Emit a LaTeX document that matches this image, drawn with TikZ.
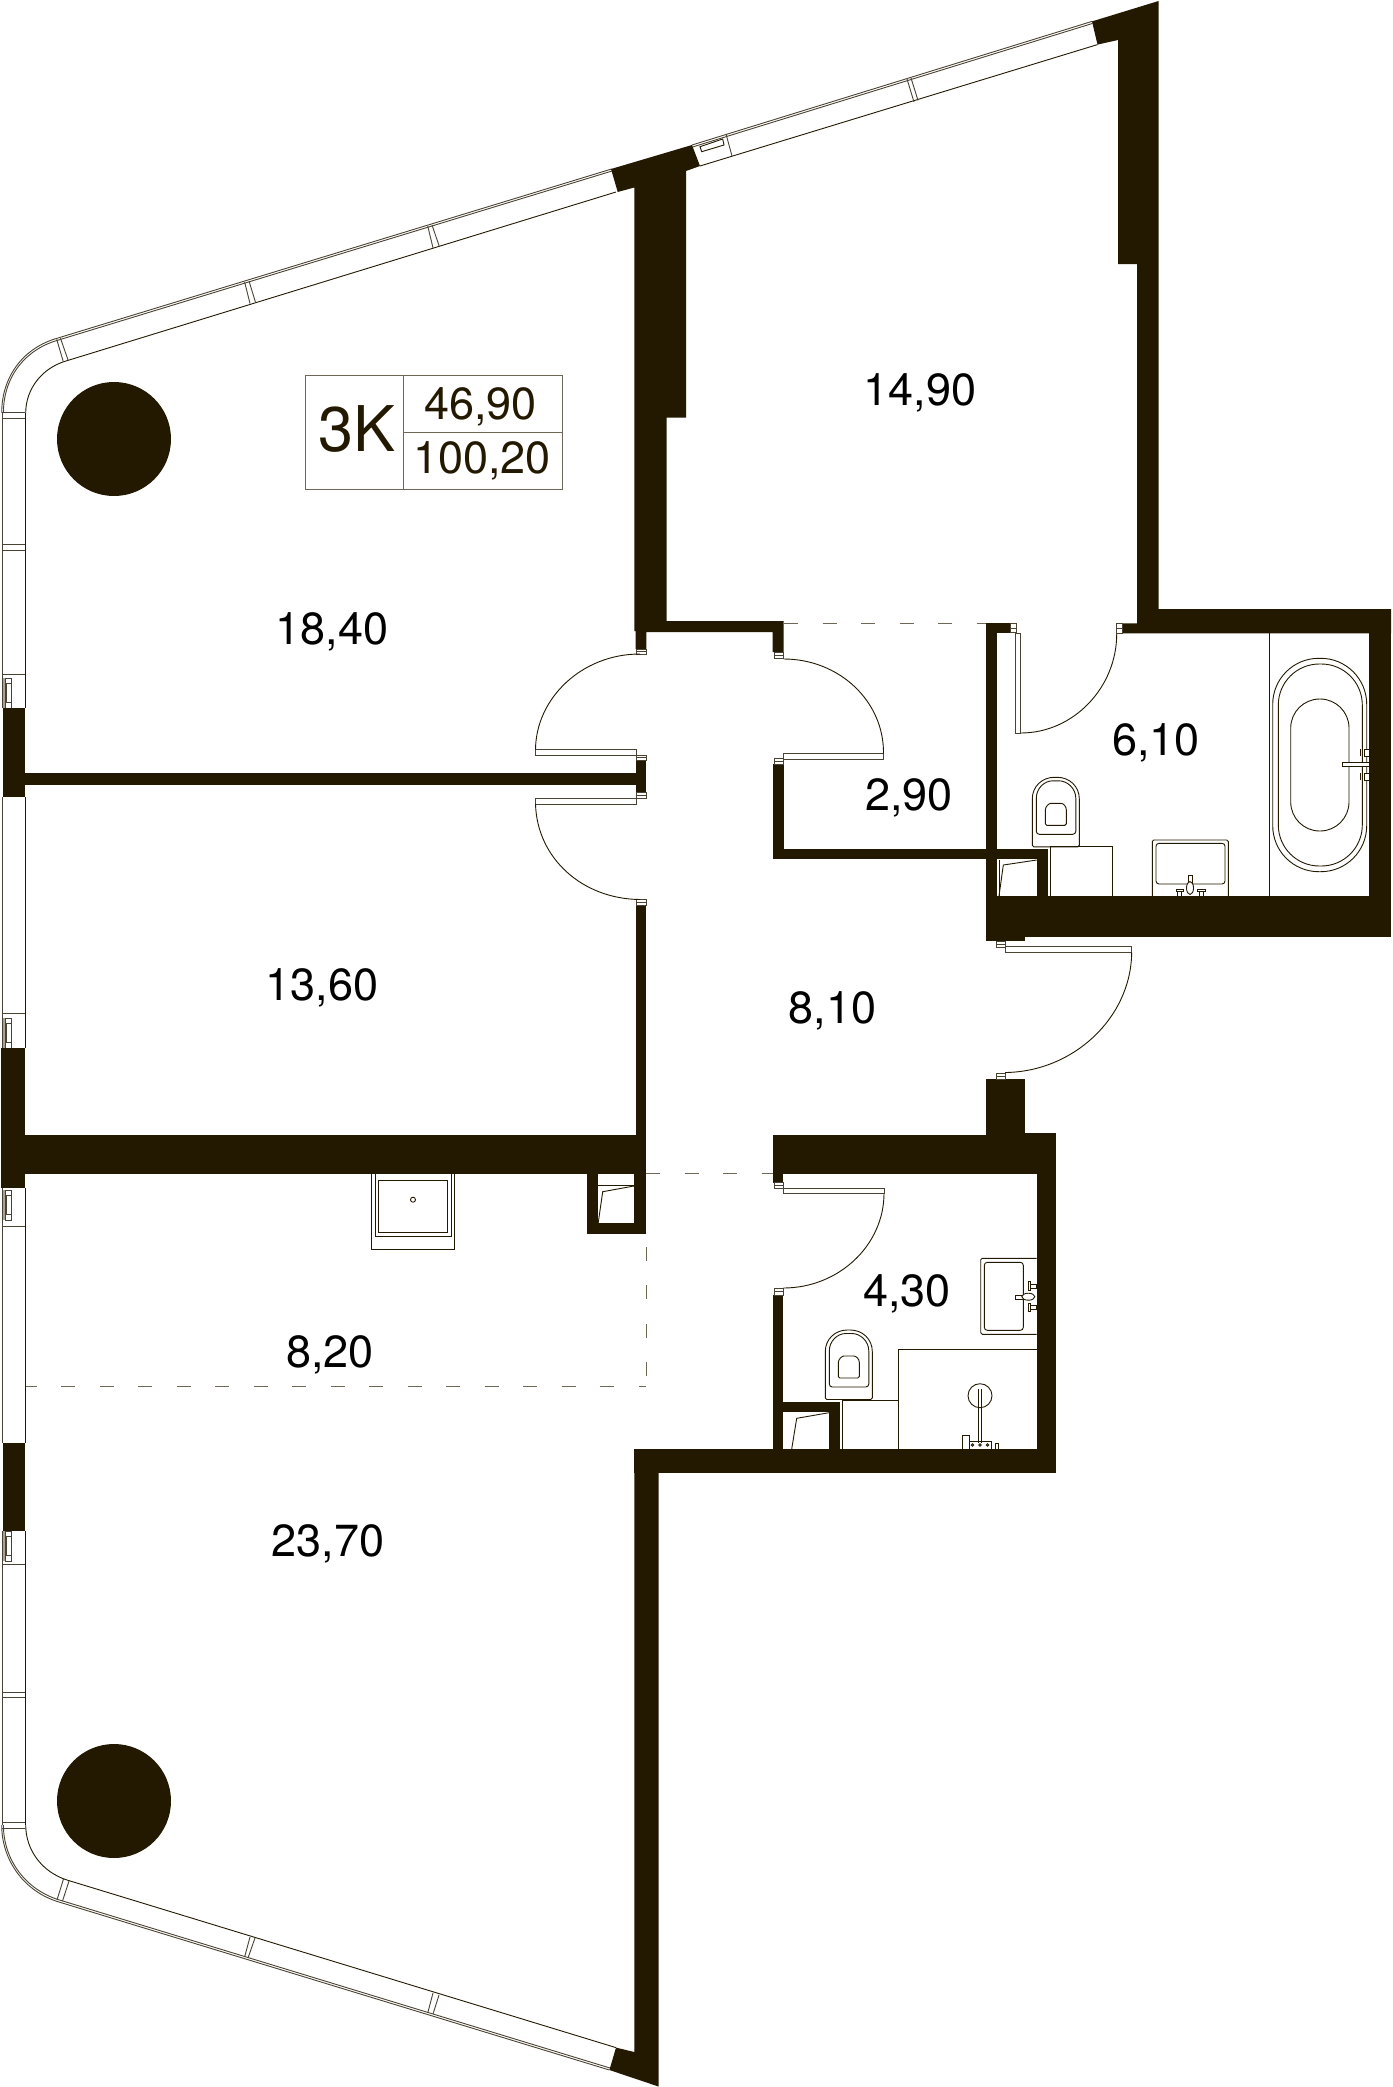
\documentclass[tikz,border=0pt]{standalone}
\usepackage{fontspec}
\setmainfont{TeX Gyre Heros}
\definecolor{wallc}{HTML}{221900}
\definecolor{boxc}{HTML}{6E6757}
\definecolor{facec}{HTML}{4A4333}
\definecolor{greyc}{HTML}{A8A294}
\tikzset{
  wall/.style={fill=wallc,draw=none},
  ln/.style={draw=wallc,line width=0.9pt,fill=none},
  lnw/.style={draw=wallc,line width=0.9pt,fill=white},
  lnf/.style={draw=facec,line width=0.8pt,fill=white},
  face/.style={draw=facec,line width=0.9pt},
  zone/.style={draw=boxc,line width=0.9pt,dash pattern=on 14pt off 24.5pt},
  room/.style={anchor=base,inner sep=0pt,text=black,font=\fontsize{45}{50}\selectfont},
  info/.style={anchor=base,inner sep=0pt,text=wallc,font=\fontsize{45}{50}\selectfont},
  infobig/.style={anchor=base,inner sep=0pt,text=wallc,font=\fontsize{63}{70}\selectfont},
  infoline/.style={draw=boxc,line width=0.9pt}
}
\newcommand{\frm}[4]{\draw[lnf] (#1,#2) rectangle (#3,#4);}
\newcommand{\frmh}[4]{\draw[lnf] (#1,#2) rectangle (#3,#4); \draw[face] (#1,{(#2+#4)/2}) -- (#3,{(#2+#4)/2});}
\newcommand{\hdl}[1]{%
  \fill[greyc] (3,#1) rectangle (5.5,#1+30);
  \draw[lnf] (5,#1) rectangle (11.7,#1+30);
  \draw[face] (6.5,#1+5) rectangle (11.7,#1+24);}
\newcommand{\wc}[2]{%
  \begin{scope}[shift={(#1,#2)}]
    \draw[ln,rounded corners=1.5pt] (0,69.5) -- (0,23) .. controls (0,9) and (10,0) .. (23.5,0) .. controls (37,0) and (47,9) .. (47,23) -- (47,69.5) -- cycle;
    \draw[ln,rounded corners=3pt] (4,57) -- (4,24) .. controls (4,11) and (12,3.5) .. (23.5,3.5) .. controls (35,3.5) and (43.5,11) .. (43.5,24) -- (43.5,57) -- cycle;
    \draw[ln,rounded corners=1.5pt] (13,48) -- (13,34) .. controls (13,29) and (17,26) .. (20,26) -- (27,26) .. controls (31,26) and (34,29) .. (34,34) -- (34,48) -- cycle;
  \end{scope}}
\begin{document}
\begin{tikzpicture}[x=1pt,y=-1pt]
\useasboundingbox (0,0) rectangle (1392,2087);
\fill[white] (0,0) rectangle (1392,2087);

% --- facade: windows
\draw[face] (1.7,1825) .. controls (1.7,1861) and (25,1892) .. (59,1902) -- (609.4,2070);
\draw[face] (3.4,1825) .. controls (3.4,1860) and (26,1890) .. (59.6,1900) -- (610,2068);
\draw[ln] (25.7,1825) .. controls (25.7,1850) and (42,1872) .. (67,1880) -- (616,2047.6);
\draw[face] (1.7,413) .. controls (1.7,375) and (25,347) .. (58,338) -- (611.6,169);
\draw[face] (3.4,413) .. controls (3.4,376) and (26,349) .. (58.6,340) -- (612,171);
\draw[ln] (25.7,413) .. controls (25.7,389) and (42,368) .. (66,361) -- (616,192);
\draw[face] (692,145) -- (1092,21.4);
\draw[face] (692.6,147) -- (1092.6,23.4);
\draw[ln] (700,166) -- (1097.5,44.6);
\foreach \a/\b in {413/708,797/1047.6,1188/1443,1531/1825}{
  \draw[face] (2.4,\a) -- (2.4,\b);
  \draw[ln] (25.3,\a) -- (25.3,\b);
}
% mullions
\foreach \y/\z in {412/418,544/550,1692/1697,1822/1828}{
  \draw[face] (2.4,\y) -- (25.3,\y);
  \draw[face] (2.4,\z) -- (25.3,\z);
}
\draw[face] (2.4,674.4) -- (25.3,674.4);
\draw[face] (2.4,1013) -- (25.3,1013);
\draw[face] (2.4,1226) -- (25.3,1226);
\draw[face] (2.4,1564.6) -- (25.3,1564.6);
\hdl{678} \hdl{1018} \hdl{1190} \hdl{1531}
\draw[face] (56.7,339.3) -- (63.3,361.7);
\draw[face] (60.5,338.3) -- (68.3,360.7);
\draw[face] (244.6,282) -- (250,303.6);
\draw[face] (249,281) -- (255.4,302);
\draw[face] (427.7,226) -- (433,247.8);
\draw[face] (432,225) -- (439.3,246.4);
\draw[face] (907,79) -- (914,102);
\draw[face] (911,78) -- (918,100.4);
\draw[face] (726,134) -- (732,156);
\draw[lnw] (700,146.7) -- (722.7,139) -- (724,145) -- (701.7,151.7) -- cycle;
\draw[face] (57,1900) -- (63.5,1879);
\draw[face] (62.5,1901) -- (69,1881);
\draw[face] (244.6,1957) -- (250,1937);
\draw[face] (248,1958) -- (255,1938);
\draw[face] (427.7,2013) -- (433,1993);
\draw[face] (433,2014) -- (439,1995);

% --- walls
\path[wall] (611,169) -- (692,145) -- (700,166) -- (686,171) -- (686,417.5) -- (666.7,417.5) -- (666.7,621) -- (783.7,621) -- (783.7,652) -- (772.7,652) -- (772.7,632) -- (646.3,632) -- (646.3,649) -- (635.7,649) -- (635.7,631) -- (634.3,631) -- (634.3,187.5) -- (617.7,192) -- cycle;
\path[wall] (1092,21.4) -- (1158.6,1) -- (1158.6,609) -- (1391,609) -- (1391,633.3) -- (1122.7,633.3) -- (1122.7,623.3) -- (1137,623.3) -- (1137,264) -- (1118,264) -- (1118,40) -- (1097.5,44.6) -- cycle;
\path[wall] (1369,633) rectangle (1391,936.7);
\path[wall] (986,896) rectangle (1391,936.7);
\path[wall] (986,936) rectangle (1025,941);
\path[wall] (986,623.3) rectangle (996.7,896);
\path[wall] (986,623.3) rectangle (1010,632.7);
\path[wall] (772.7,848.7) rectangle (1047.7,859.3);
\path[wall] (1036.7,859) rectangle (1047.7,896);
\path[wall] (772.7,764) rectangle (783.7,859.3);
\path[wall] (986,1079) rectangle (1024.7,1135);
\path[wall] (772.7,1135) rectangle (1055.7,1173.7);
\path[wall] (1036.7,1133) rectangle (1055.7,1472.7);
\path[wall] (1024.7,1133) rectangle (1055.7,1136);
\path[wall] (634.3,1449) rectangle (1055.7,1472.7);
\path[wall] (772.7,1295) rectangle (783.3,1449);
\path[wall] (772.7,1173) rectangle (783.3,1182.7);
\path[wall] (783,1401.7) rectangle (840,1411.7);
\path[wall] (829.3,1401.7) rectangle (840,1449);
\path[wall] (634.3,1449) -- (658.5,1449) -- (658.5,2086.5) -- (609.4,2070) -- (616,2047.6) -- (634.3,2052) -- cycle;
\path[wall] (25,1135) rectangle (646.3,1174);
\path[wall] (587,1174) rectangle (598,1234);
\path[wall] (634.4,1174) rectangle (646.3,1234);
\path[wall] (587,1223) rectangle (646.3,1234);
\path[wall] (635.7,905) rectangle (646.3,1135);
\path[wall] (25,773.3) rectangle (636,784.7);
\path[wall] (635.7,760.7) rectangle (646.3,792.7);
\path[wall] (2.5,708) rectangle (25.3,797);
\path[wall] (1.3,1047.6) rectangle (25.3,1188);
\path[wall] (2.5,1443) rectangle (25.3,1531);

\fill[wallc] (114,439) circle (57);
\fill[wallc] (114,1801) circle (57);

% --- zone dashes
\draw[zone] (784,623) -- (986,623);
\draw[zone] (646,1173.3) -- (772.7,1173.3);
\draw[zone,dash phase=3] (25.5,1386.7) -- (646,1386.7);
\draw[zone,dash pattern=on 14pt off 24.3pt] (646,1247) -- (646,1387);

% --- doors
\frmh{636}{649}{646}{654}
\frmh{636}{755}{646}{760.7}
\frmh{636}{792.7}{646}{798}
\frmh{636}{899.5}{646}{905}
\frmh{774}{652}{783.7}{658}
\frmh{774}{758.5}{783.7}{764}
\frm{535.5}{749.5}{636}{755.5}
\frm{535.5}{798}{636}{804}
\frm{783.7}{753.5}{883.5}{759}
\draw[ln] (640,654) .. controls (582,654) and (536,698) .. (535.5,749.5);
\draw[ln] (535.5,804) .. controls (537,858) and (582,899) .. (640,899.5);
\draw[ln] (783.7,659) .. controls (839,659) and (884,701) .. (883.5,753.5);
% bath door
\frmh{1010}{623.3}{1016}{632.7}
\frmh{1116.7}{623.3}{1122.7}{633.3}
\frm{1015.5}{633}{1020.7}{733}
\draw[ln] (1116.7,634) .. controls (1116.7,687) and (1074,733) .. (1020.7,733);
% entry door
\frmh{996.7}{941}{1005}{947}
\frmh{996.7}{1073}{1005.7}{1079}
\frm{1005}{946.7}{1131.7}{952.3}
\draw[ln] (1131.7,952.3) .. controls (1131,1019) and (1072,1072) .. (1005,1072.5);
% wc door
\frmh{774}{1182.7}{783.3}{1188}
\frmh{774}{1288}{783.3}{1295}
\frm{783.3}{1188.3}{884}{1193.3}
\draw[ln] (884,1193.3) .. controls (884,1245) and (839,1288) .. (783.3,1288);

% --- info box
\draw[infoline] (305,375.4) rectangle (562.5,489.3);
\draw[infoline] (403.6,375.4) -- (403.6,489.3);
\draw[infoline] (403.6,432) -- (562.5,432);
\node[infobig] (type) at (357,451) {3K};
\node[info] (living) at (480.5,419.5) {46,90};
\node[info] (total) at (482,473.5) {100,20};

% --- rooms
\node[room] (r1) at (332,644.5) {18,40};
\node[room] (r2) at (920,405.5) {14,90};
\node[room] (r3) at (909,810.5) {2,90};
\node[room] (r4) at (1155.8,755.5) {6,10};
\node[room] (r5) at (322,1000.5) {13,60};
\node[room] (r6) at (832.7,1023.5) {8,10};
\node[room] (r7) at (330,1367.5) {8,20};
\node[room] (r8) at (907,1306.5) {4,30};
\node[room] (r9) at (328,1556.5) {23,70};

% --- bathroom fixtures (upper)
\draw[ln] (1269.3,633) -- (1269.3,896);
\draw[ln,rounded corners=46pt] (1272.7,658.3) rectangle (1366.7,871.7);
\draw[ln,rounded corners=41pt] (1278.3,664) rectangle (1362.3,866);
\draw[ln,rounded corners=29pt] (1290.7,699) rectangle (1349,831);
\draw[lnw] (1342,762.5) rectangle (1369,766.5);
\draw[lnw] (1364,749) rectangle (1369,756);
\draw[lnw] (1364,773) rectangle (1369,780);
\draw[ln] (1360.7,749) -- (1360.7,756);
\draw[ln] (1360.7,773) -- (1360.7,780);
\wc{1032.3}{777.3}
\draw[ln] (1050,846.7) -- (1112.7,846.7) -- (1112.7,896);
\draw[ln] (1050,846.7) -- (1050,896);
\draw[ln] (999,896) -- (1003.3,865) -- (1036.7,860);
\draw[ln] (999,896) -- (999,860);
\draw[ln,rounded corners=1.5pt] (1152.3,896) -- (1152.3,840) -- (1228.3,840) -- (1228.3,896);
\draw[ln,rounded corners=3pt] (1156,843.3) rectangle (1225,884);
\draw[lnw] (1188,875) -- (1192,875) -- (1192,882) -- (1188,882) -- cycle;
\draw[lnw] (1190,888) ellipse (3.5 and 6.5);
\draw[lnw] (1176,889) -- (1183,889) -- (1183,891) -- (1176,891) -- cycle;
\draw[lnw] (1177.5,891) rectangle (1181.5,896);
\draw[lnw] (1197,889) -- (1205,889) -- (1205,891) -- (1197,891) -- cycle;
\draw[lnw] (1199,891) rectangle (1203,896);

% --- bathroom fixtures (lower)
\wc{825.3}{1330}
\draw[ln] (842.3,1400) -- (898.3,1400);
\draw[ln] (842.3,1400) -- (842.3,1449);
\draw[ln] (898.3,1449) -- (898.3,1349.3) -- (1036.7,1349.3);
\draw[ln] (791.7,1449) -- (796.7,1418.3) -- (829,1412.7);
\draw[ln,rounded corners=1.5pt] (1036.7,1258.3) -- (980.7,1258.3) -- (980.7,1334.3) -- (1036.7,1334.3);
\draw[ln,rounded corners=3pt] (984.3,1262.3) rectangle (1023.3,1330.3);
\draw[lnw] (1015,1295) rectangle (1023,1299);
\draw[lnw] (1028.3,1296.7) ellipse (6.5 and 3.5);
\draw[lnw] (1028.5,1281.5) rectangle (1030.5,1290);
\draw[lnw] (1030.5,1284) rectangle (1036.7,1288);
\draw[lnw] (1028.5,1303) rectangle (1030.5,1311.7);
\draw[lnw] (1030.5,1305.5) rectangle (1036.7,1309.5);
\draw[ln] (980,1395.7) circle (12);
\draw[ln] (978.5,1389) -- (978.5,1443);
\draw[ln] (981.5,1389) -- (981.5,1443);
\draw[ln] (962.3,1449) -- (962.3,1435) -- (969.3,1435) -- (969.3,1449);
\draw[ln] (969.3,1441.7) -- (991.7,1441.7) -- (991.7,1449);
\draw[ln] (972.5,1445) circle (1.3);
\draw[ln] (980,1445) circle (1.3);
\draw[ln] (987.5,1445) circle (1.3);
\draw[ln] (995,1449) -- (995,1443.5) -- (998.3,1443.5) -- (998.3,1449);

% --- shaft and washer (living)
\draw[ln] (598.2,1223) -- (602.7,1191.7) -- (634,1186);
\draw[ln] (598.2,1185.7) -- (634,1185.7);
\draw[ln] (371.9,1174) -- (371.9,1249.3) -- (454.5,1249.3) -- (454.5,1174);
\draw[ln] (375,1174) -- (375,1236) -- (451,1236) -- (451,1174);
\draw[ln] (378.6,1180.7) rectangle (447.3,1232.3);
\draw[ln] (413,1199.7) circle (2.5);
\end{tikzpicture}
\end{document}
